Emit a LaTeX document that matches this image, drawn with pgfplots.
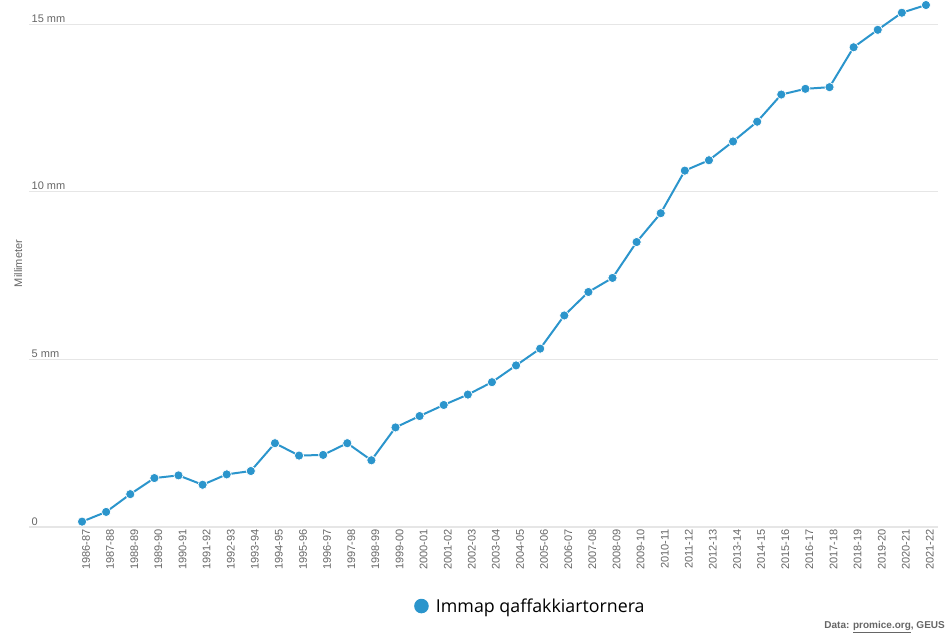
\documentclass[border=0pt]{standalone}
\usepackage{pgfplots}
\pgfplotsset{compat=1.18}
\usepackage{fontspec}
\setmainfont{Liberation Sans}
\newfontfamily\legfont{Open Sans}
\definecolor{c}{RGB}{43,149,204}
\definecolor{tl}{RGB}{102,102,102}
\definecolor{gl}{RGB}{230,230,230}
\begin{document}
\begin{tikzpicture}
\path[use as bounding box] (-29pt,-107pt) rectangle (920pt,527pt);
\begin{axis}[
  scale only axis,
  width=909pt, height=527pt,
  xmin=-2.2, xmax=35.5,
  ymin=0, ymax=15.72,
  clip=false,
  axis line style={draw=none},
  major tick length=0pt,
  ymajorgrids,
  grid style={gl, line width=1.2pt},
  ytick={0,5,10,15},
  yticklabels={0,5 mm,10 mm,15 mm},
  yticklabel style={anchor=south west, inner sep=1.5pt, xshift=1pt, font=\fontsize{11pt}{13pt}\selectfont, text=tl},
  xtick={0,...,35},
  xticklabels={1986-87,1987-88,1988-89,1989-90,1990-91,1991-92,1992-93,1993-94,1994-95,1995-96,1996-97,1997-98,1998-99,1999-00,2000-01,2001-02,2002-03,2003-04,2004-05,2005-06,2006-07,2007-08,2008-09,2009-10,2010-11,2011-12,2012-13,2013-14,2014-15,2015-16,2016-17,2017-18,2018-19,2019-20,2020-21,2021-22},
  xticklabel style={rotate=90, anchor=east, inner sep=2pt, yshift=-4pt, font=\fontsize{11pt}{13pt}\selectfont, text=tl},
  legend style={draw=none, fill=none, at={(0.4235,-0.15)}, anchor=west, font=\legfont\fontsize{17.8pt}{20pt}\selectfont, inner sep=0pt},
  legend image code/.code={\fill[c, draw=none] (0.1cm,0pt) circle (7.3pt); \path[draw=none, fill=none] (0.1cm,0pt) -- ++(12.5pt,0pt);},
]
\addplot[c, line width=2pt, mark=*, mark size=4.6pt, mark options={fill=c, draw=white, line width=0.7pt}] coordinates {
(0,0.16) (1,0.45) (2,0.98) (3,1.46) (4,1.54) (5,1.26) (6,1.57) (7,1.67) (8,2.50) (9,2.13)
(10,2.15) (11,2.50) (12,1.99) (13,2.97) (14,3.31) (15,3.64) (16,3.95) (17,4.32) (18,4.82) (19,5.32)
(20,6.31) (21,7.01) (22,7.43) (23,8.50) (24,9.36) (25,10.63) (26,10.94) (27,11.50) (28,12.09) (29,12.90)
(30,13.07) (31,13.12) (32,14.31) (33,14.83) (34,15.34) (35,15.57)
};
\addlegendentry{Immap qaffakkiartornera}
\node[rotate=90, text=tl, font=\fontsize{11pt}{13pt}\selectfont] at (rel axis cs:-0.012,0.5) {Millimeter};
\node[anchor=east, text=tl, font=\bfseries\fontsize{10pt}{12pt}\selectfont, inner sep=0pt] at (rel axis cs:1.0077,-0.19) {Data: \underline{promice.org}, GEUS};
\end{axis}
\end{tikzpicture}
\end{document}
